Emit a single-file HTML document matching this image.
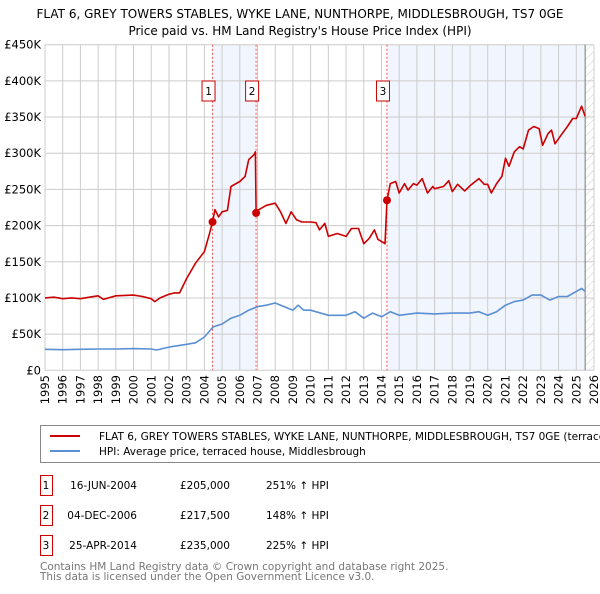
<!DOCTYPE html>
<html><head><meta charset="utf-8"><style>
body{margin:0;background:#fff;width:600px;height:590px;overflow:hidden;font-family:"DejaVu Sans","Liberation Sans",sans-serif;}
svg text{font-family:"DejaVu Sans","Liberation Sans",sans-serif;}
</style></head><body>
<svg id="c" width="600" height="590" xmlns="http://www.w3.org/2000/svg">
<defs><pattern id="hatch" width="6" height="6" patternUnits="userSpaceOnUse" patternTransform="rotate(45)"><line x1="0" y1="0" x2="0" y2="6" stroke="#ccc" stroke-width="1"/></pattern></defs>
<text x="300" y="18" text-anchor="middle" font-size="12">FLAT 6, GREY TOWERS STABLES, WYKE LANE, NUNTHORPE, MIDDLESBROUGH, TS7 0GE</text>
<text x="300" y="35" text-anchor="middle" font-size="12">Price paid vs. HM Land Registry's House Price Index (HPI)</text>
<g id="plot"></g>
<g>
<rect x="40.5" y="425.5" width="580" height="37" fill="#fff" stroke="#888"/>
<line x1="50" y1="436" x2="80" y2="436" stroke="#cc0000" stroke-width="2"/>
<text x="99" y="440" font-size="10.5">FLAT 6, GREY TOWERS STABLES, WYKE LANE, NUNTHORPE, MIDDLESBROUGH, TS7 0GE (terraced house)</text>
<line x1="50" y1="451" x2="80" y2="451" stroke="#5b8fd4" stroke-width="2"/>
<text x="99" y="455" font-size="10.5">HPI: Average price, terraced house, Middlesbrough</text>
</g>
<g id="tbl" font-size="10.5"></g>
<text x="40" y="570" font-size="10.5" fill="#777">Contains HM Land Registry data © Crown copyright and database right 2025.</text>
<text x="40" y="580" font-size="10.5" fill="#777">This data is licensed under the Open Government Licence v3.0.</text>
</svg>
<script>
const yTicks=[0,50,100,150,200,250,300,350,400,450];
const yTickLabels=["£0","£50K","£100K","£150K","£200K","£250K","£300K","£350K","£400K","£450K"];
const xYears=[1995,1996,1997,1998,1999,2000,2001,2002,2003,2004,2005,2006,2007,2008,2009,2010,2011,2012,2013,2014,2015,2016,2017,2018,2019,2020,2021,2022,2023,2024,2025,2026];
const saleYears=[2004.46,2006.92,2014.31];
const salePrices=[205,217.5,235];
const saleLabels=["1","2","3"];
const saleDates=["16-JUN-2004","04-DEC-2006","25-APR-2014"];
const salePriceText=["£205,000","£217,500","£235,000"];
const saleHpiText=["251% ↑ HPI","148% ↑ HPI","225% ↑ HPI"];
const hpiYears=[1995,1996,1997,1998,1999,2000,2001,2001.3,2002,2003,2003.5,2004,2004.5,2005,2005.5,2006,2006.5,2007,2007.5,2008,2008.5,2009,2009.3,2009.6,2010,2011,2012,2012.5,2013,2013.5,2014,2014.5,2015,2016,2017,2018,2019,2019.5,2020,2020.5,2021,2021.5,2022,2022.5,2023,2023.5,2024,2024.5,2025,2025.3,2025.5];
const hpiValues=[29,28.5,29,29.5,29.5,30,29.5,28,32,36,38,46,60,64,72,76,83,88,90,93,88,83,90,83,83,76,76,81,72,79,74,81,76,79,78,79,79,81,76,81,90,95,97,104,104,97,102,102,109,113,109];
const redYears=[1995,1995.5,1996,1996.5,1997,1997.5,1998,1998.3,1999,2000,2000.5,2001,2001.2,2001.5,2002,2002.3,2002.6,2003,2003.5,2004,2004.3,2004.46,2004.6,2004.8,2005,2005.3,2005.5,2006,2006.3,2006.5,2006.8,2006.88,2006.92,2007,2007.5,2008,2008.3,2008.6,2008.9,2009.2,2009.5,2010,2010.3,2010.5,2010.8,2011,2011.5,2012,2012.3,2012.7,2013,2013.3,2013.6,2013.8,2014.2,2014.31,2014.5,2014.8,2015,2015.3,2015.5,2015.8,2016,2016.3,2016.6,2016.9,2017,2017.5,2017.8,2018,2018.3,2018.7,2019,2019.5,2019.8,2020,2020.2,2020.5,2020.8,2021,2021.2,2021.5,2021.8,2022,2022.3,2022.6,2022.9,2023.1,2023.4,2023.6,2023.8,2024.2,2024.5,2024.8,2025,2025.3,2025.5];
const redValues=[100,101,99,100,99,101,103,98,103,104,102,99,95,100,105,107,107,127,148,164,190,205,222,212,219,221,254,261,268,291,298,302,217.5,221,228,231,219,203,219,208,205,205,204,194,203,185,189,185,196,196,175,182,194,181,175,235,258,261,245,258,249,258,256,265,245,254,251,254,262,247,257,248,255,265,257,257,245,258,268,293,282,302,309,306,332,337,334,311,327,332,313,327,337,348,348,365,351];

const L=45,R=594,T=44.7,B=370.3;
const X=y=>L+(y-1995)*(R-L)/31;
const Y=v=>B-v*(B-T)/450;
const NS="http://www.w3.org/2000/svg";
const plot=document.getElementById('plot');
function mk(tag,attrs,parent){const e=document.createElementNS(NS,tag);for(const k in attrs)e.setAttribute(k,attrs[k]);(parent||plot).appendChild(e);return e;}
let s=mk('rect',{x:X(saleYears[0]),y:T,width:X(saleYears[1])-X(saleYears[0]),height:B-T,fill:'#eef3fc',opacity:0.8});


s=mk('rect',{x:X(saleYears[2]),y:T,width:X(2025.5)-X(saleYears[2]),height:B-T,fill:'#eef3fc',opacity:0.8});


s=mk('rect',{x:X(2025.5),y:T,width:R-X(2025.5),height:B-T,fill:'url(#hatch)'});


yTicks.forEach((v,i)=>{
 const g=mk('line',{x1:L,x2:R,y1:Y(v),y2:Y(v),stroke:'#ccc','stroke-width':1});
 
 
 const t=mk('text',{x:L-4,y:Y(v)+4,'text-anchor':'end','font-size':11.5});
 t.textContent=yTickLabels[i];
 
 
});
xYears.forEach(yr=>{
 const g=mk('line',{x1:X(yr),x2:X(yr),y1:T,y2:B,stroke:'#ccc','stroke-width':1});
 
 
 const tx=X(yr)+4,ty=375;
 const t=mk('text',{x:tx,y:ty,'text-anchor':'end','font-size':11.5,transform:`rotate(-90 ${tx} ${ty})`});
 t.textContent=yr;
 
 
});
s=mk('line',{x1:X(2025.5),x2:X(2025.5),y1:T,y2:B,stroke:'#777','stroke-width':1});


saleYears.forEach((yr,i)=>{
 const l=mk('line',{x1:X(yr),x2:X(yr),y1:T,y2:B,stroke:'#ee5555','stroke-width':1,'stroke-dasharray':'2,2'});
 
 
 const b=mk('rect',{x:X(yr)-10.5,y:81,width:13,height:20,fill:'#fff',stroke:'#cc0000'});
 
 
 const t=mk('text',{x:X(yr)-4,y:95,'text-anchor':'middle','font-size':10.5});
 t.textContent=saleLabels[i];
 
 
});
function line(xs,vs,col,name){
 const d=xs.map((x,i)=>(i?'L':'M')+X(x).toFixed(1)+','+Y(vs[i]).toFixed(1)).join('');
 const p=mk('path',{d:d,fill:'none',stroke:col,'stroke-width':1.6,'stroke-linejoin':'round'});
 
 
}
line(hpiYears,hpiValues,'#5b8fd4','hpi-line');
line(redYears,redValues,'#cc0000','property-price-line');
saleYears.forEach((yr,i)=>{
 const c=mk('circle',{cx:X(yr),cy:Y(salePrices[i]),r:4,fill:'#cc0000'});
 
 
});
const tbl=document.getElementById('tbl');
saleYears.forEach((yr,i)=>{
 const y0=477+i*30;
 const b=mk('rect',{x:40.5,y:y0-1.5,width:12,height:20,fill:'#fff',stroke:'#cc0000'},tbl);
 
 
 const cells=[[46,saleLabels[i],'middle'],[137,saleDates[i],'end'],[230,salePriceText[i],'end'],[266,saleHpiText[i],'start']];
 cells.forEach((c,j)=>{
  const t=mk('text',{x:c[0],y:y0+12,'text-anchor':c[2]},tbl);
  t.textContent=c[1];
  
  
 });
});
</script>
</body></html>
